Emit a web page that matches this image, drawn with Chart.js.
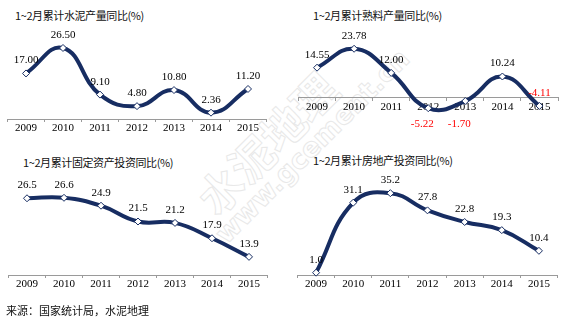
<!DOCTYPE html>
<html lang="zh">

<head>
  <meta charset="UTF-8">
  <title>1~2月累计同比</title>
  <script src="https://cdn.jsdelivr.net/npm/chart.js"></script>
  <style>
    body {
      margin: 0;
      background: #fff;
    }

    .wrap {
      position: relative;
      width: 570px;
      height: 325px;
      overflow: hidden;
    }

    .wrap canvas {
      position: absolute;
    }

    .title {
      position: absolute;
      font-family: "Noto Sans CJK SC", sans-serif;
      font-size: 11px;
      letter-spacing: -0.4px;
      line-height: 16px;
      color: #111;
      white-space: nowrap;
    }

    /* faint outlined watermark */
    .mark {
      position: absolute;
      white-space: nowrap;
      color: transparent;
      -webkit-text-stroke: 1px #e8e8e8;
      transform: translate(-50%, -50%) rotate(-45deg);
    }
  </style>
</head>

<body>
  <div class="wrap">
    <div class="mark" style="left:266px;top:142px;font:bold 44px 'Noto Sans CJK SC',sans-serif">水泥地理</div>
    <div class="mark" style="left:312px;top:146px;font:bold 27px 'DejaVu Sans',sans-serif">www.gcement.cn</div>

    <div class="title" style="left:15px;top:7px">1~2月累计水泥产量同比(%)</div>
    <div class="title" style="left:313px;top:7px">1~2月累计熟料产量同比(%)</div>
    <div class="title" style="left:23px;top:154px">1~2月累计固定资产投资同比(%)</div>
    <div class="title" style="left:313px;top:152px">1~2月累计房地产投资同比(%)</div>

    <canvas id="c1" width="285" height="140" style="left:0;top:0"></canvas>
    <canvas id="c2" width="285" height="145" style="left:285px;top:0"></canvas>
    <canvas id="c3" width="285" height="160" style="left:0;top:145px"></canvas>
    <canvas id="c4" width="285" height="160" style="left:285px;top:145px"></canvas>

    <div class="title" style="left:6px;top:302px;letter-spacing:0">来源：国家统计局，水泥地理</div>
  </div>

  <script>
    const years = ['2009', '2010', '2011', '2012', '2013', '2014', '2015'];
    const cement = [17.00, 26.50, 9.10, 4.80, 10.80, 2.36, 11.20];
    const clinker = [14.55, 23.78, 12.00, -5.22, -1.70, 10.24, -4.11];
    const fixedAsset = [26.5, 26.6, 24.9, 21.5, 21.2, 17.9, 13.9];
    const realEstate = [1.0, 31.1, 35.2, 27.8, 22.8, 19.3, 10.4];

    const NAVY = '#172d62';
    const AXIS = '#9a9a9a';

    // value labels above each point (or below the axis, for the listed indexes)
    const valueLabels = {
      id: 'valueLabels',
      afterDatasetsDraw(chart, args, opts) {
        const ctx = chart.ctx;
        const ds = chart.data.datasets[0];
        const meta = chart.getDatasetMeta(0);
        const below = opts.below || [];
        const zeroY = chart.scales.y.getPixelForValue(0);
        ctx.save();
        ctx.font = '11px "Liberation Serif", serif';
        ctx.textAlign = 'center';
        ctx.textBaseline = 'middle';
        meta.data.forEach((pt, i) => {
          const v = ds.data[i];
          ctx.fillStyle = v < 0 ? '#ff0000' : '#000';
          let y = pt.y - 13;
          let x = pt.x;
          if (below.includes(i)) {
            y = zeroY + 27;
            x = pt.x - 6;
          }
          ctx.fillText(v.toFixed(opts.digits), x, y);
        });
        ctx.restore();
      }
    };

    function makeChart(id, values, cfg) {
      const xScale = {
        type: 'category',
        offset: true,
        grid: {
          display: true,
          drawOnChartArea: false,
          offset: true,
          color: AXIS,
          tickLength: 3
        },
        border: { display: true, color: AXIS, width: 1 },
        ticks: {
          color: '#000',
          padding: 0,
          maxRotation: 0,
          autoSkip: false,
          font: { family: '"Liberation Serif", serif', size: 11 }
        }
      };
      if (cfg.atZero) {
        xScale.position = { y: 0 };
      } else {
        xScale.afterFit = (s) => { s.height = cfg.axisH; };
      }
      return new Chart(document.getElementById(id), {
        type: 'line',
        data: {
          labels: years,
          datasets: [{
            data: values,
            borderColor: NAVY,
            borderWidth: 4,
            tension: 0.45,
            pointStyle: 'rectRot',
            pointRadius: 3.5,
            pointBackgroundColor: '#fff',
            pointBorderColor: NAVY,
            pointBorderWidth: 1,
            clip: false
          }]
        },
        options: {
          responsive: false,
          animation: false,
          layout: { padding: cfg.pad },
          scales: {
            x: xScale,
            y: { display: false, min: cfg.min, max: cfg.max }
          },
          plugins: {
            legend: { display: false },
            tooltip: { enabled: false },
            valueLabels: { digits: cfg.digits, below: cfg.below || [] }
          }
        },
        plugins: [valueLabels]
      });
    }

    makeChart('c1', cement, {
      pad: { left: 7.5, right: 18.5, top: 38.6, bottom: 0 },
      axisH: 21, min: 0, max: 30, digits: 2
    });
    makeChart('c2', clinker, {
      pad: { left: 13.5, right: 12, top: 36, bottom: 27 },
      atZero: true, min: -10, max: 30, digits: 2, below: [3, 4]
    });
    makeChart('c3', fixedAsset, {
      pad: { left: 8.5, right: 17.5, top: 37, bottom: 0 },
      axisH: 30, min: 10, max: 30, digits: 1
    });
    makeChart('c4', realEstate, {
      pad: { left: 12.5, right: 12.5, top: 37, bottom: 0 },
      axisH: 30, min: 0, max: 40, digits: 1
    });
  </script>
</body>

</html>
